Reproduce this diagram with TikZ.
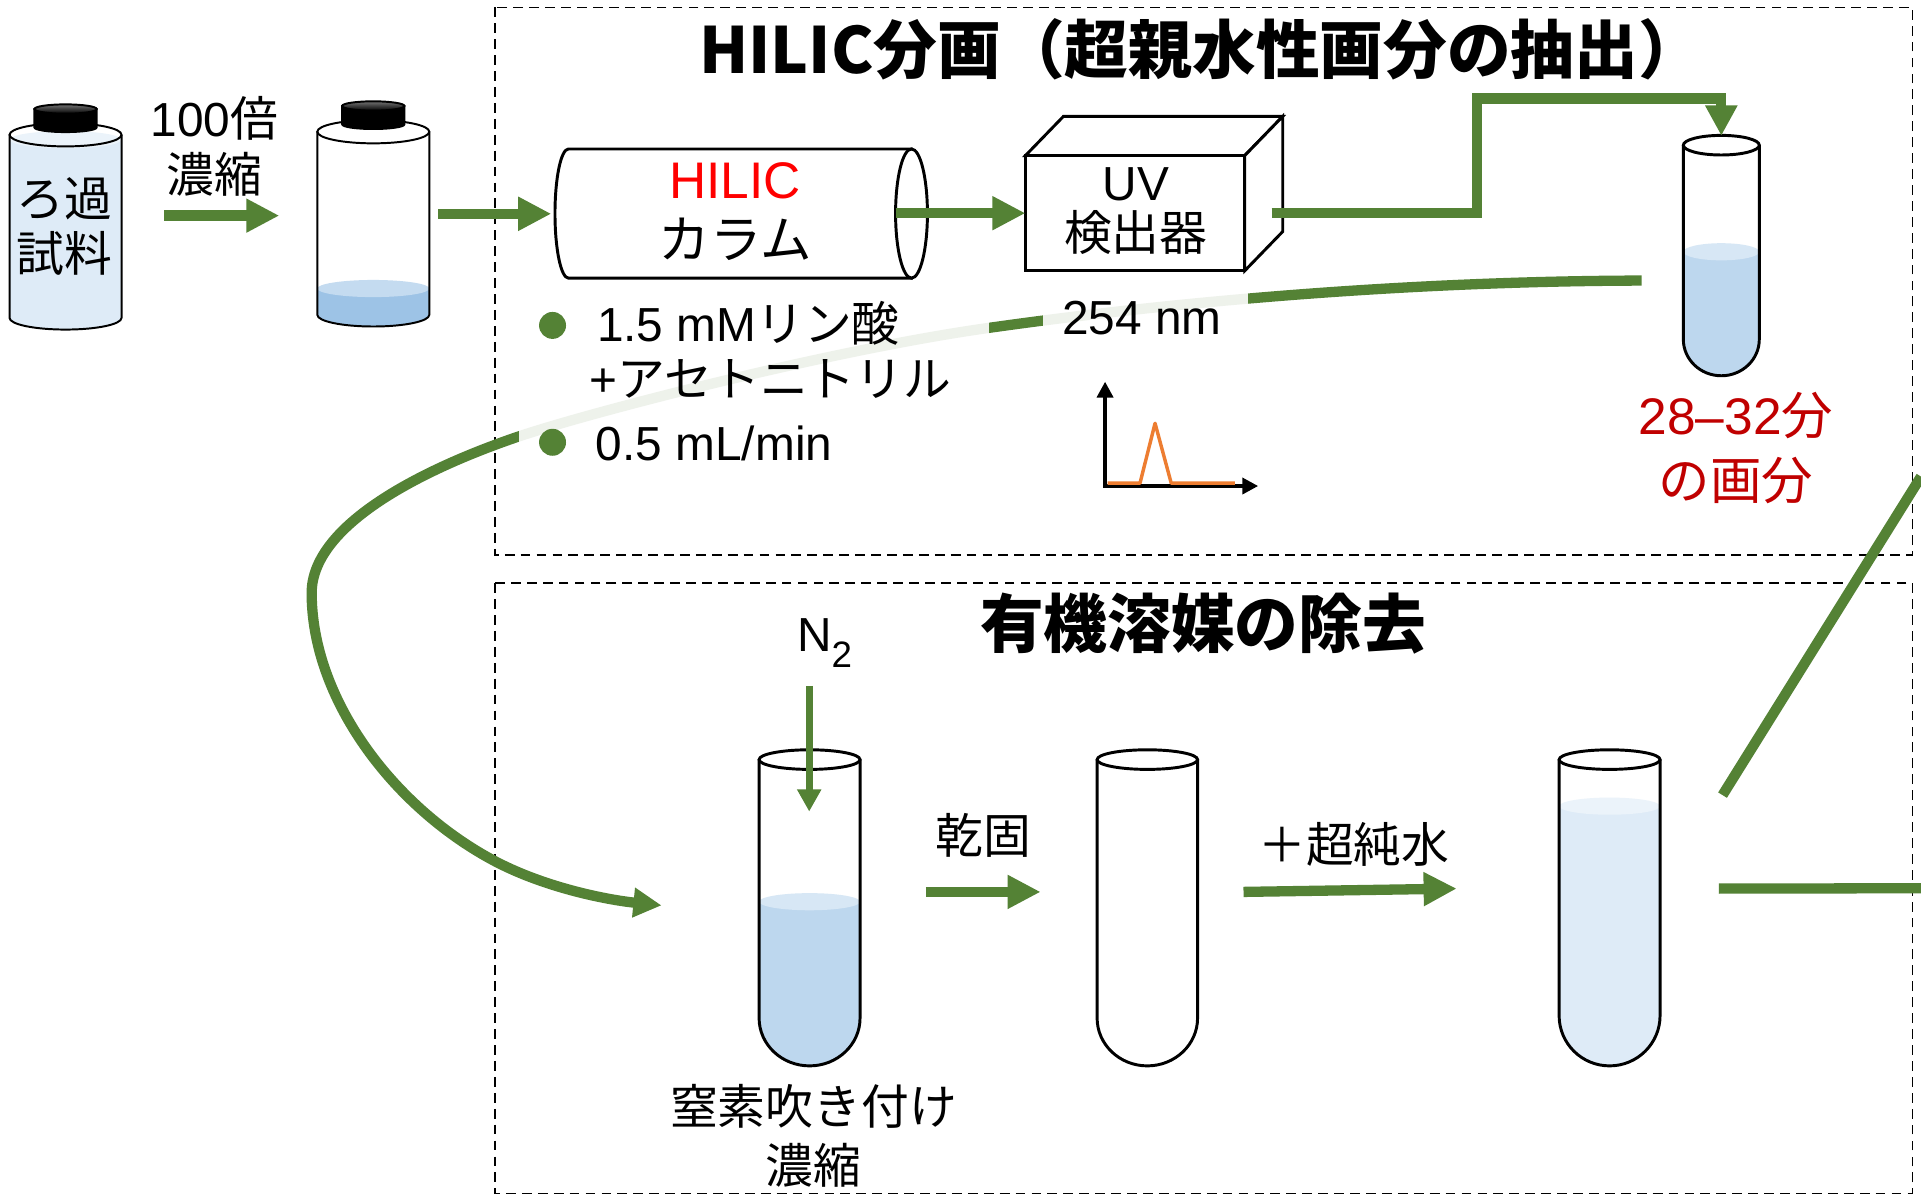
\documentclass[tikz,border=0pt]{standalone}
\usepackage{fontspec}
\setmainfont{Liberation Sans}
\newfontfamily\jp{Noto Sans CJK JP}
\newcommand{\ja}[1]{{\jp #1}}
\usepackage{tikz}
\usetikzlibrary{arrows.meta, positioning}

\definecolor{flowgreen}{HTML}{548235}
\definecolor{liqpale}{HTML}{DEEBF7}
\definecolor{liqmid}{HTML}{BDD7EE}
\definecolor{liqdeep}{HTML}{9DC3E6}
\definecolor{fracred}{HTML}{C00000}
\definecolor{peakorange}{HTML}{ED7D31}

\tikzset{
  glass/.style={draw=black, line width=1.2pt},
  % test tube outline, origin at the centre of the mouth
  pics/tube/.style n args={3}{code={
    \draw[glass] (-#1,0) -- (-#1,#2) arc[start angle=180, end angle=0, x radius=#1, y radius=#3] -- (#1,0);
    \filldraw[glass, fill=white] (0,0) ellipse[x radius=#1, y radius=8];
  }},
  % liquid inside a tube or bottle: half width, straight length, bottom depth, level, colour
  pics/liquid/.style n args={5}{code={
    \fill[#5] (-#1,#4) -- (-#1,#2) arc[start angle=180, end angle=0, x radius=#1, y radius=#3] -- (#1,#4) -- cycle;
    \fill[#5!60!white] (0,#4) ellipse[x radius=#1, y radius=7];
  }},
  % screw-cap bottle
  pics/bottle/.style={code={
    \draw[glass, line width=0.8pt] (-45.7,0) -- (-45.7,149.5) arc[start angle=180, end angle=0, x radius=45.7, y radius=9.5] -- (45.7,0);
    \draw[glass, line width=0.8pt] (0,0) ellipse[x radius=45.7, y radius=9.5];
    \filldraw[glass, line width=0.8pt, fill=black] (-25.4,-21) -- (-25.4,-6) arc[start angle=180, end angle=0, x radius=25.4, y radius=3.8] -- (25.4,-21) -- cycle;
    \filldraw[glass, line width=0.8pt, top color=black!55, bottom color=black] (0,-21) ellipse[x radius=25.4, y radius=3.8];
  }}
}

\begin{document}
\begin{tikzpicture}[
  x=0.5pt, y=-0.5pt,
  lbl/.style={font=\fontsize{19.5pt}{#1}\selectfont, align=center, inner sep=0pt},
  lbl/.default=23pt,
  big/.style={font=\fontsize{21pt}{#1}\selectfont, align=center, inner sep=0pt},
  big/.default=25pt,
  heading/.style={font=\jp\bfseries\fontsize{26pt}{30pt}\selectfont, inner sep=0pt},
  region/.style={draw=black, line width=0.6pt, dash pattern=on 4pt off 2.5pt},
  flow/.style={draw=flowgreen, line width=4.2pt},
  flowarrow/.style={flow, -{Triangle[width=13pt, length=13.5pt]}},
  veil/.style={fill=white, fill opacity=0.9, draw=none, inner sep=0pt},
  bullet/.style={circle, fill=flowgreen, minimum size=11pt, inner sep=0pt},
  axis/.style={line width=1.6pt, {Triangle[width=6.5pt, length=6.5pt]}-{Triangle[width=6.5pt, length=6.5pt]}},
  peak/.style={draw=peakorange, line width=1.4pt, line join=round}
]

\fill[white] (0,0) rectangle (1568,976);
\useasboundingbox (0,0) rectangle (1568,976);

% dashed frames of the two stages
\draw[region] (404,6) rectangle (1561,453);
\draw[region] (404,476) rectangle (1561,974);
\node[heading] (hilic) at (980,40) {HILIC分画（超親水性画分の抽出）};
\node[heading] (evap) at (982,509) {有機溶媒の除去};

% filtered sample and the concentrate
\pic at (53.5,110) {liquid={45.7}{149.5}{9.5}{4}{liqpale}};
\pic at (53.5,110) {bottle};
\node[lbl=22.2pt] (filt) at (52.5,185) {\ja{ろ過}\\\ja{試料}};
\pic at (304.7,107.5) {liquid={45.7}{149.5}{9.5}{128}{liqdeep}};
\pic at (304.7,107.5) {bottle};
\node[lbl=22.7pt] (conc) at (175,119.3) {100\ja{倍}\\\ja{濃縮}};
\coordinate (conc-a) at (134,176);
\coordinate (conc-b) at (228,176);
\draw[flowarrow] (conc-a) -- (conc-b);
\coordinate (inj-a) at (357.8,174.5);
\coordinate (inj-b) at (450,174.5);
\draw[flowarrow] (inj-a) -- (inj-b);

% HILIC column
\filldraw[glass, fill=white] (744,121.6) -- (464,121.6) arc[start angle=270, end angle=90, x radius=11, y radius=52.7] -- (744,227) -- cycle;
\filldraw[glass, fill=white] (744,174.3) ellipse[x radius=13, y radius=52.7];
\node[big=24.5pt] (column) at (600,172.5) {\textcolor{red}{HILIC}\\\ja{カラム}};

% UV detector box
\filldraw[glass, fill=white] (837,127) -- (868,95) -- (1047,95) -- (1016,127) -- cycle;
\filldraw[glass, fill=white] (1016,127) -- (1047,95) -- (1047,189) -- (1016,221) -- cycle;
\filldraw[glass, fill=white] (837,127) rectangle (1016,221);
\node[lbl=20.5pt] (uv) at (927,172.5) {UV\\\ja{検出器}};
\coordinate (col-out) at (731,174);
\coordinate (uv-in) at (837,174);
\draw[flowarrow] (col-out) -- (uv-in);

% fraction collected from the detector
\pic at (1405,118.5) {liquid={31}{158.5}{29.7}{87}{liqmid}};
\pic at (1405,118.5) {tube={31}{158.5}{29.7}};
\node[big=26.5pt, text=fracred] (frac) at (1417,366) {28–32\ja{分}\\\ja{の画分}};
\coordinate (uv-out) at (1038,174);
\coordinate (frac-in) at (1405,110.8);
\draw[flow, -{Triangle[width=12.4pt, length=12.4pt]}] (uv-out) -| (1205.7,80.5) -| (frac-in);

% fraction carried down to the nitrogen step
\coordinate (frac-out) at (1340,229);
\coordinate (n2-in) at (540,739);
\draw[flow, -{Triangle[width=11.5pt, length=11.5pt]}] (frac-out)
  .. controls (1150,229.5) and (960,246) .. (808,267.5)
  .. controls (680,285.3) and (480,336.7) .. (420,357.4)
  .. controls (340,385) and (254.4,430) .. (254.4,484)
  .. controls (254.4,570) and (320,656.8) .. (400,700.8)
  .. controls (445,725.6) and (500,735) .. (n2-in);

% eluent and wavelength
\node[veil, minimum width=192pt, minimum height=74pt] (condbox) at (615.5,312) {};
\node[veil, minimum width=84pt, minimum height=28pt] (nmbox) at (935,264) {};
\node[bullet] (b1) at (451,265.6) {};
\node[bullet] (b2) at (451,361) {};
\node[lbl, anchor=west] (eluent) at (487,264) {1.5 mM\ja{リン酸}};
\node[lbl, anchor=west] (acn) at (481,309) {+\ja{アセトニトリル}};
\node[lbl, anchor=west] (rate) at (486,362) {0.5 mL/min};
\node[lbl] (uvnm) at (932,260) {254 nm};

% chromatogram sketch
\draw[axis] (902,311.5) |- (1027,396.7);
\draw[peak] (904,394.4) -- (930.5,394.4) -- (942.8,345.5) -- (956,394.4) -- (1008,394.4);

% nitrogen blow-down
\pic at (660.8,620) {liquid={41.2}{211}{39}{116}{liqmid}};
\pic at (660.8,620) {tube={41.2}{211}{39}};
\node[lbl] (n2) at (673,525) {N\raisebox{-0.32em}{\fontsize{15pt}{15pt}\selectfont 2}};
\coordinate (n2-a) at (660.5,559.8);
\coordinate (n2-b) at (660.5,662.4);
\draw[flow, line width=3pt, -{Triangle[width=9.3pt, length=9pt]}] (n2-a) -- (n2-b);
\node[lbl=23.8pt] (blow) at (664,927) {\ja{窒素吹き付け}\\\ja{濃縮}};

% dried, then redissolved
\pic at (936.5,620) {tube={41}{211}{39}};
\node[lbl] (dry) at (802.6,682) {\ja{乾固}};
\coordinate (dry-a) at (755.7,728);
\coordinate (dry-b) at (849.4,728);
\draw[flowarrow] (dry-a) -- (dry-b);
\pic at (1313.8,620) {liquid={41.2}{209}{41}{38}{liqpale}};
\pic at (1313.8,620) {tube={41.2}{209}{41}};
\node[lbl] (water) at (1105,689) {\ja{＋超純水}};
\coordinate (water-a) at (1015,728);
\coordinate (water-b) at (1189,725.3);
\draw[flowarrow] (water-a) -- (water-b);

% lines leaving to the right
\coordinate (out-a) at (1406,649);
\coordinate (out-b) at (1568,389);
\draw[flow] (out-a) -- (out-b);
\coordinate (out-c) at (1403,725.3);
\coordinate (out-d) at (1568,725);
\draw[flow] (out-c) -- (out-d);

\end{tikzpicture}
\end{document}
